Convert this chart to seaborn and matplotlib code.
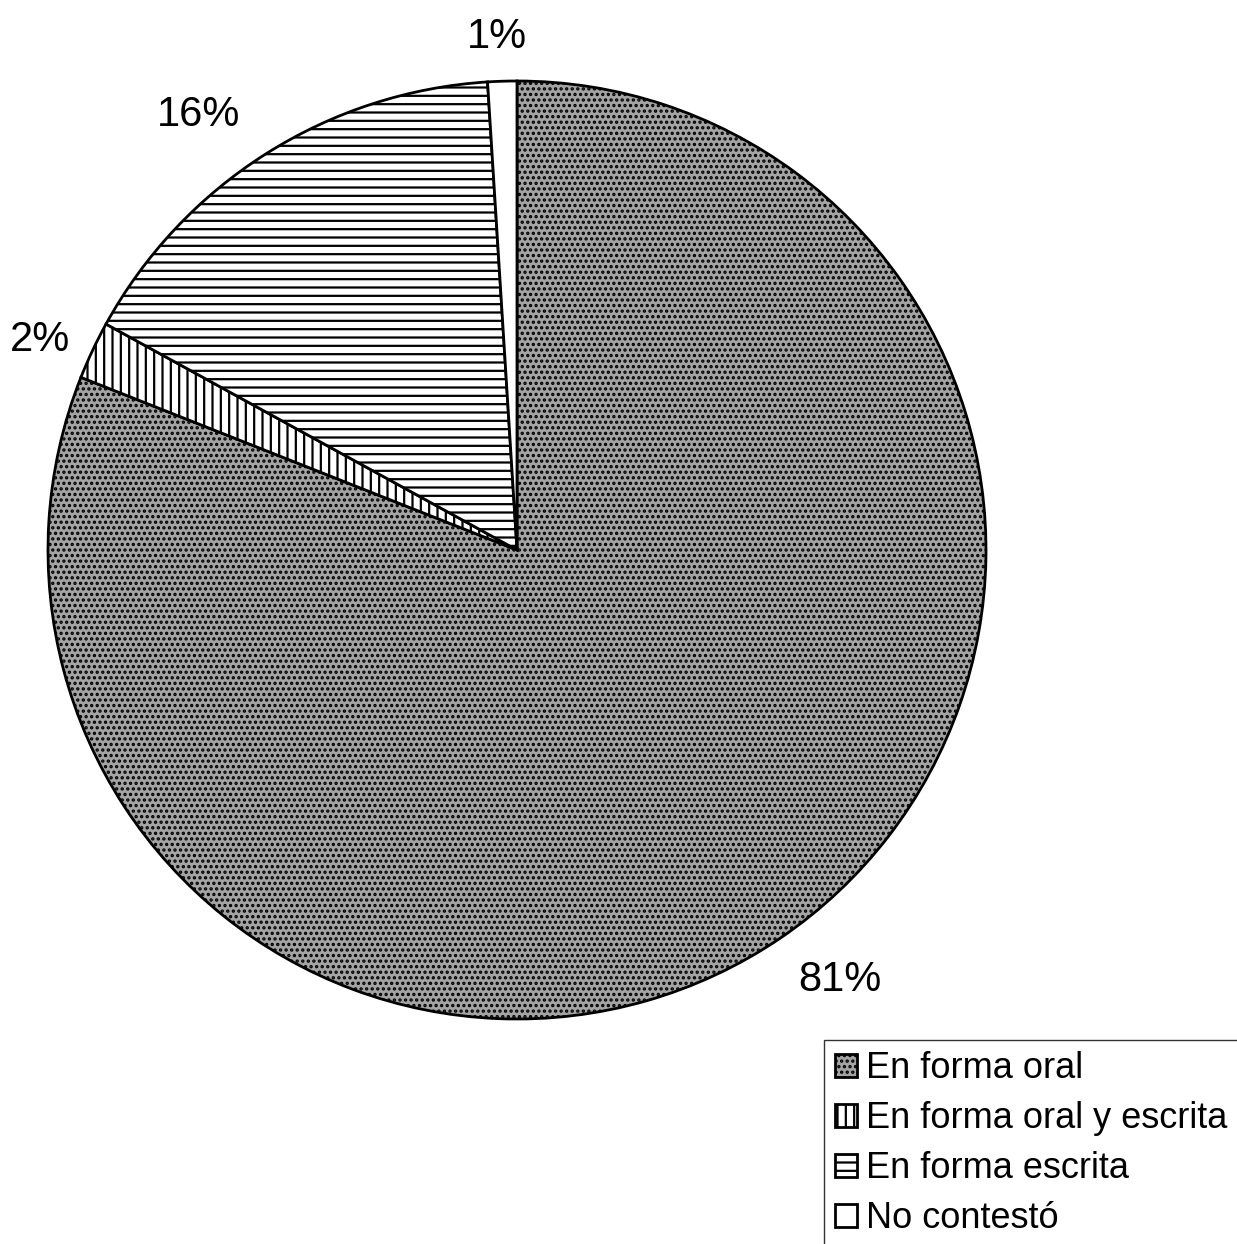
import matplotlib
matplotlib.use("Agg")
import numpy as np
import matplotlib.pyplot as plt
import seaborn as sns

# datos del grafico (en sentido horario desde arriba)
categorias = ["En forma oral", "En forma oral y escrita", "En forma escrita", "No contestó"]
porcentajes = [81, 2, 16, 1]
tramas = ["...", "||", "--", ""]
colores = ["#a4a4a4", "white", "white", "white"]
# ajuste de las etiquetas: distancia al centro y giro (grados)
dist_etiquetas = [1.147, 1.111, 1.15, 1.095]
giro_etiquetas = [2.7, 1.4, 3.8, 0.4]

sns.set_theme(style="white")
plt.rcParams["font.family"] = ["Liberation Sans", "DejaVu Sans"]
plt.rcParams["hatch.linewidth"] = 1.6

fig = plt.figure(figsize=(12.37, 12.44), dpi=100)
ax = fig.add_axes([48 / 1237, 225 / 1244, 938 / 1237, 938 / 1244])

wedges, textos, pcts = ax.pie(
    porcentajes,
    colors=colores,
    startangle=90,
    counterclock=False,
    autopct=lambda p: f"{p:.0f}%",
    pctdistance=1.13,
    wedgeprops=dict(edgecolor="black", linewidth=2),
    textprops=dict(fontsize=30, color="black"),
)
for w, h in zip(wedges, tramas):
    w.set_hatch(h)

for w, t, d, g in zip(wedges, pcts, dist_etiquetas, giro_etiquetas):
    ang = np.deg2rad((w.theta1 + w.theta2) / 2 + g)
    t.set_position((d * np.cos(ang), d * np.sin(ang)))

ax.set_xlim(-1, 1)
ax.set_ylim(-1, 1)
ax.set_aspect("equal")
ax.axis("off")

# Leyenda
leg = fig.legend(
    wedges, categorias,
    loc="upper left", bbox_to_anchor=(824 / 1237, 1 - 1040 / 1244),
    fontsize=26, frameon=True, fancybox=False, labelcolor="black",
    handlelength=0.6, handleheight=0.6, handletextpad=0.25,
    borderpad=0.3, labelspacing=0.42, borderaxespad=0,
)
leg.get_frame().set_edgecolor("black")
leg.get_frame().set_linewidth(1)

fig.savefig("out.png", dpi=100)
